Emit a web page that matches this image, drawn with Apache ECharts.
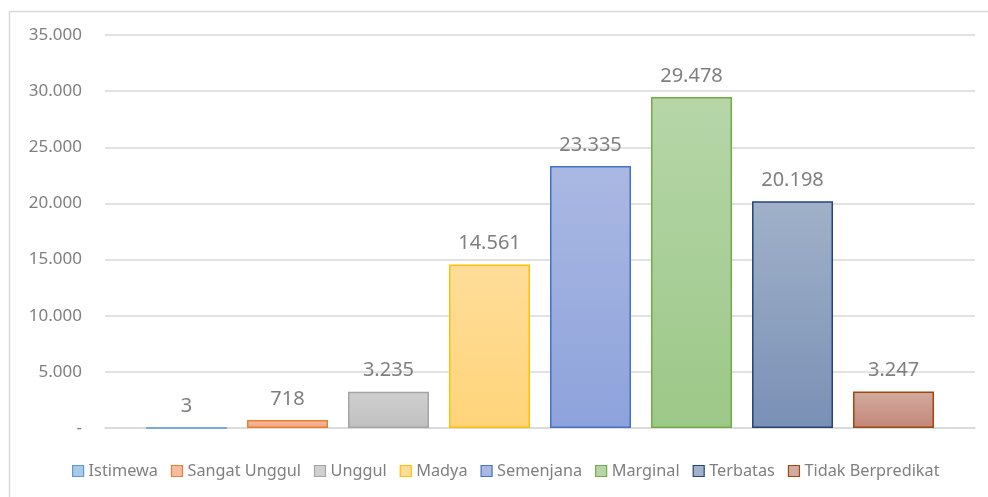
<!DOCTYPE html>
<html>
<head>
<meta charset="utf-8">
<script src="https://cdn.jsdelivr.net/npm/echarts@6/dist/echarts.min.js"></script>
<style>html,body{margin:0;padding:0;background:#fff}#c{width:988px;height:497px}</style>
</head>
<body>
<div id="c"></div>
<script>
const seriesNames = ['Istimewa', 'Sangat Unggul', 'Unggul', 'Madya', 'Semenjana', 'Marginal', 'Terbatas', 'Tidak Berpredikat'];
const seriesValues = [3, 718, 3235, 14561, 23335, 29478, 20198, 3247];
const yTicks = [0, 5000, 10000, 15000, 20000, 25000, 30000, 35000];

const fillTop = ['#a9c9ea', '#f6bca0', '#d0d0d0', '#ffdd99', '#aab8e2', '#b6d6a8', '#a0b1c9', '#d3aaa0'];
const fillBottom = ['#8fb6e0', '#f2a886', '#c0c0c0', '#ffd47a', '#8ea3dc', '#9cc888', '#7a90b5', '#c28778'];
const borders = ['#5b9bd5', '#ed7d31', '#a5a5a5', '#ffc000', '#4472c4', '#70ad47', '#264478', '#9e480e'];

const FONT = 'Noto Sans';
const fmt = v => v === 0 ? '-' : String(v).replace(/\B(?=(\d{3})+(?!\d))/g, '.');

const chart = echarts.init(document.getElementById('c'), null, {renderer: 'canvas'});
chart.setOption({
  animation: false,
  backgroundColor: '#fff',
  graphic: [{
    type: 'rect', silent: true, z: -1,
    shape: {x: 9.5, y: 11.5, width: 1000, height: 500},
    style: {fill: 'none', stroke: '#d9d9d9', lineWidth: 1.5}
  }],
  legend: {
    left: 67, top: 458,
    icon: 'rect',
    itemWidth: 11, itemHeight: 11, itemGap: 13,
    textStyle: {color: '#7f7f7f', fontFamily: FONT, fontSize: 16.25},
    data: seriesNames.map((n, i) => ({name: n, itemStyle: {color: fillTop[i], borderColor: borders[i], borderWidth: 1.2}}))
  },
  grid: {left: 105, right: 13, top: 35, bottom: 69, containLabel: false},
  xAxis: {
    type: 'category', data: [''],
    axisLine: {show: true, lineStyle: {color: '#d9d9d9', width: 1.5}},
    axisTick: {show: false}, axisLabel: {show: false}
  },
  yAxis: {
    type: 'value', min: yTicks[0], max: yTicks[yTicks.length - 1], interval: yTicks[1] - yTicks[0],
    axisLine: {show: false}, axisTick: {show: false},
    splitLine: {lineStyle: {color: '#d9d9d9', width: 1.5}},
    axisLabel: {color: '#7f7f7f', fontFamily: FONT, fontSize: 17, margin: 23, formatter: fmt}
  },
  series: seriesNames.map((n, i) => ({
    name: n, type: 'bar', data: [seriesValues[i]],
    barWidth: 81, barGap: '24.7%',
    itemStyle: {
      color: new echarts.graphic.LinearGradient(0, 0, 0, 1, [{offset: 0, color: fillTop[i]}, {offset: 1, color: fillBottom[i]}]),
      borderColor: borders[i], borderWidth: 1.5
    },
    label: {show: true, position: 'top', distance: 11, color: '#7f7f7f', fontFamily: FONT, fontSize: 20, formatter: p => fmt(p.value)}
  }))
});
</script>
</body>
</html>
